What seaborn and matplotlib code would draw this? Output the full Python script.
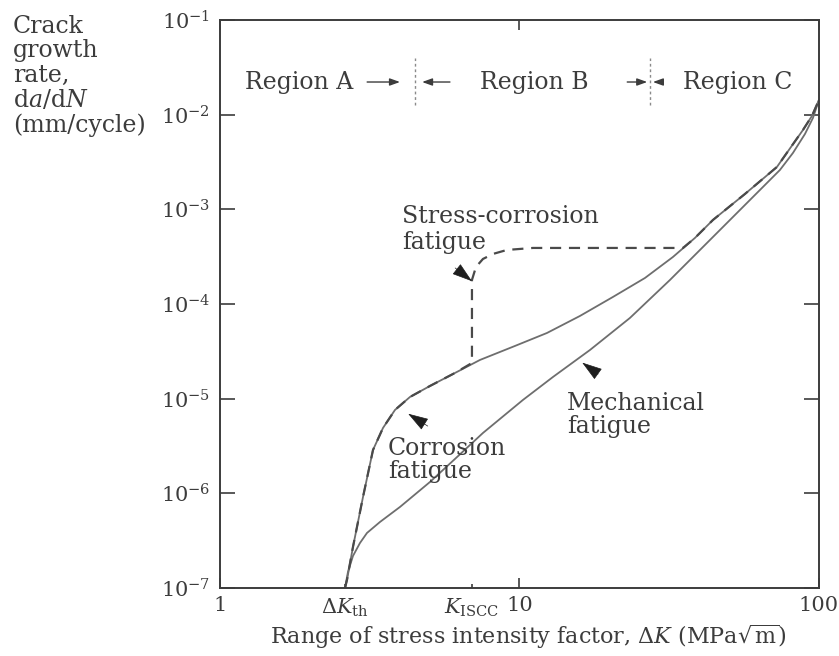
import matplotlib
matplotlib.use("Agg")
import matplotlib.pyplot as plt
import seaborn as sns
from matplotlib.ticker import NullLocator

# values (log-log axes)
dk_th = 2.615
k_iscc = 6.94

# mechanical fatigue (lower solid curve)
mech_dk = [2.615, 2.675, 2.780, 2.934, 3.096, 3.422, 3.990, 5.026, 6.090, 7.553,
           10.27, 12.94, 17.20, 23.38, 31.81, 41.00, 50.46, 63.54, 74.09, 81.88,
           89.82, 95.50, 100.0]
mech_rate = [1.00e-7, 1.476e-7, 2.178e-7, 2.988e-7, 3.811e-7, 4.981e-7, 7.174e-7,
             1.318e-6, 2.306e-6, 4.340e-6, 9.683e-6, 1.694e-5, 3.267e-5, 7.115e-5,
             1.793e-4, 4.001e-4, 7.716e-4, 1.600e-3, 2.603e-3, 3.936e-3, 6.249e-3,
             9.222e-3, 1.428e-2]

# corrosion fatigue (upper solid curve)
corr_dk = [2.615, 2.655, 2.780, 3.003, 3.243, 3.502, 3.840, 4.309, 5.026, 6.090,
           7.381, 9.660, 12.36, 15.92, 20.52, 26.25, 32.55, 38.54, 44.27, 56.62,
           72.40, 88.45, 94.76, 100.0]
corr_rate = [1.00e-7, 1.215e-7, 2.711e-7, 9.151e-7, 2.870e-6, 4.901e-6, 7.594e-6,
             1.041e-5, 1.361e-5, 1.867e-5, 2.562e-5, 3.601e-5, 4.940e-5, 7.468e-5,
             1.186e-4, 1.882e-4, 3.137e-4, 4.981e-4, 7.716e-4, 1.452e-3, 2.800e-3,
             6.888e-3, 9.680e-3, 1.428e-2]

# stress-corrosion fatigue (dashed path)
scf_dk = [2.615, 2.655, 2.780, 3.003, 3.243, 3.502, 3.840, 4.309, 5.026, 6.090,
          6.940, 6.940, 7.157, 7.553, 8.155, 9.083, 11.09, 35.16, 38.54, 44.27,
          56.62, 72.40, 88.45, 94.76, 100.0]
scf_rate = [1.00e-7, 1.215e-7, 2.711e-7, 9.151e-7, 2.870e-6, 4.901e-6, 7.594e-6,
            1.041e-5, 1.361e-5, 1.867e-5, 2.381e-5, 1.793e-4, 2.460e-4, 2.988e-4,
            3.375e-4, 3.720e-4, 3.905e-4, 3.905e-4, 4.981e-4, 7.716e-4, 1.452e-3,
            2.800e-3, 6.888e-3, 9.680e-3, 1.428e-2]

x_major = [1, 10, 100]
x_major_labels = ["1", "10", "100"]
x_minor = [dk_th, k_iscc]
x_minor_labels = [r"$\Delta K_{\mathrm{th}}$", r"$K_{\mathrm{ISCC}}$"]
y_ticks = [1e-7, 1e-6, 1e-5, 1e-4, 1e-3, 1e-2, 1e-1]
y_tick_labels = [r"$10^{-7}$", r"$10^{-6}$", r"$10^{-5}$", r"$10^{-4}$",
                 r"$10^{-3}$", r"$10^{-2}$", r"$10^{-1}$"]

region_bounds = [4.48, 27.3]
region_names = ["Region A", "Region B", "Region C"]
region_text_x = [1.21, 7.38, 35.2]
region_y = 0.0221

sns.set_theme(style="white")
plt.rcParams["font.family"] = ["DejaVu Serif"]
plt.rcParams["mathtext.fontset"] = "dejavuserif"

INK = "#3c3c3c"
LINE = "#6e6e6e"
FS = 17

fig = plt.figure(figsize=(8.39, 6.56), dpi=100)
ax = fig.add_axes([0.2622, 0.1037, 0.7139, 0.8659])
ax.set_xscale("log")
ax.set_yscale("log")

sns.lineplot(x=mech_dk, y=mech_rate, sort=False, estimator=None, ax=ax,
             color=LINE, linewidth=1.3)
sns.lineplot(x=corr_dk, y=corr_rate, sort=False, estimator=None, ax=ax,
             color=LINE, linewidth=1.3)
sns.lineplot(x=scf_dk, y=scf_rate, sort=False, estimator=None, ax=ax,
             color="#4a4a4a", linewidth=1.6, linestyle=(0, (5, 3.5)))

ax.set_xlim(1, 100)
ax.set_ylim(1e-7, 1e-1)

ax.set_xticks(x_major, labels=x_major_labels)
ax.set_xticks(x_minor, labels=x_minor_labels, minor=True)
ax.set_yticks(y_ticks, labels=y_tick_labels)
ax.yaxis.set_minor_locator(NullLocator())
ax.tick_params(axis="both", which="both", labelsize=15, labelcolor=INK, color=INK)
ax.tick_params(axis="x", which="major", direction="in", length=7, width=1.2,
               top=True, bottom=True, pad=6)
ax.tick_params(axis="x", which="minor", direction="in", length=3, width=1.2,
               top=False, bottom=True, pad=6)
ax.tick_params(axis="y", which="major", direction="in", length=11, width=1.2,
               left=True, right=True, pad=7)
for side in ax.spines.values():
    side.set_color(INK)
    side.set_linewidth(1.4)

ax.set_xlabel(r"Range of stress intensity factor, $\Delta K$ (MPa$\sqrt{\mathrm{m}}$)",
              fontsize=16, color=INK)
ax.xaxis.label.set_va("center")
ax.xaxis.set_label_coords(0.515, -0.086)

fig.text(13 / 839, 1 - 15 / 656, "Crack\ngrowth\nrate,\nd$a$/d$N$\n(mm/cycle)",
         fontsize=FS, color=INK, ha="left", va="top", linespacing=1.08)

# region banner
for name, x in zip(region_names, region_text_x):
    ax.text(x, region_y, name, fontsize=FS, color=INK, ha="left", va="center")
for b in region_bounds:
    ax.plot([b, b], [0.0126, 0.040], color="#8a8a8a", linewidth=1.0,
            linestyle=(0, (2, 2)))
arrow_kw = dict(arrowstyle="-|>,head_length=0.5,head_width=0.18", color=INK,
                linewidth=1.0, shrinkA=0, shrinkB=0)
for tail, tip in [(3.10, 3.99), (5.86, 4.73), (22.9, 26.7), (30.1, 27.9)]:
    ax.annotate("", xy=(tip, region_y), xytext=(tail, region_y), arrowprops=arrow_kw)

# curve labels and pointer heads
ax.text(4.05, 1.10e-3, "Stress-corrosion\nfatigue", fontsize=FS, color=INK,
        ha="left", va="top", linespacing=1.12)
ax.text(3.64, 3.9e-6, "Corrosion\nfatigue", fontsize=FS, color=INK,
        ha="left", va="top", linespacing=1.0)
ax.text(14.4, 1.18e-5, "Mechanical\nfatigue", fontsize=FS, color=INK,
        ha="left", va="top", linespacing=1.0)

head_kw = dict(arrowstyle="-|>,head_length=1.0,head_width=0.32", color="#1e1e1e",
               linewidth=0.5, shrinkA=0, shrinkB=0, mutation_scale=13)
pointers = [((6.10, 2.40e-4), (6.94, 1.74e-4)),
            ((4.94, 5.13e-6), (4.25, 6.92e-6)),
            ((18.3, 1.82e-5), (16.2, 2.40e-5))]
for tail, tip in pointers:
    ax.annotate("", xy=tip, xytext=tail, arrowprops=head_kw)

fig.savefig("out.png", dpi=100)
